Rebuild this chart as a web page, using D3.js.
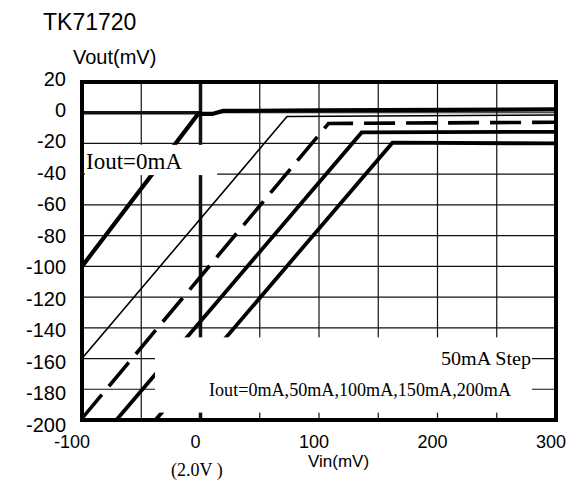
<!DOCTYPE html>
<html>
<head>
<meta charset="utf-8">
<script src="https://cdn.jsdelivr.net/npm/d3@7"></script>
<style>
  html, body { margin: 0; padding: 0; background: #fff; }
  svg { display: block; }
</style>
</head>
<body>
<div id="chart"></div>
<script>
// ---------------- data ----------------
const chartTitle = "TK71720";
const yAxisTitle = "Vout(mV)";
const xAxisTitle = "Vin(mV)";
const xSubLabel = "(2.0V )";
const xTickValues = [-100, 0, 100, 200, 300];
const xTickLabels = ["-100", "0", "100", "200", "300"];
const yTickValues = [20, 0, -20, -40, -60, -80, -100, -120, -140, -160, -180, -200];
const yTickLabels = ["20", "0", "-20", "-40", "-60", "-80", "-100", "-120", "-140", "-160", "-180", "-200"];
const xGridValues = [-50, 0, 50, 100, 150, 200, 250];
const yGridValues = [0, -20, -40, -60, -80, -100, -120, -140, -160, -180];

// Vout deviation (mV) vs Vin (mV), per load current
const seriesNames = ["0mA", "50mA", "100mA", "150mA", "200mA"];
const iout0mA   = [[-100, -100], [-2, -0.8], [10, -0.8], [19, 1.2], [100, 1.5], [300, 2.2]];
const iout50mA  = [[-100, -160], [73, -2.5], [300, -1.5]];
const iout100mA = [[-100, -199], [108, -7], [300, -6.2]];
const iout150mA = [[-71, -200], [136, -12.8], [300, -12.4]];
const iout200mA = [[-38, -200], [162, -19.5], [300, -20]];

const labelZero = "Iout=0mA";
const legendStep = "50mA Step";
const legendList = "Iout=0mA,50mA,100mA,150mA,200mA";

// ---------------- drawing ----------------
const W = 567, H = 483;
const svg = d3.select("#chart").append("svg").attr("width", W).attr("height", H);

const x = d3.scaleLinear().domain([-100, 300]).range([82, 556]);
const y = d3.scaleLinear().domain([20, -200]).range([82, 420]);
// tick labels in the original are spaced slightly differently from the grid
const yLab = d3.scaleLinear().domain([20, -200]).range([78.5, 424.5]);

const sans = "'Liberation Sans', Arial, sans-serif";
const serif = "'Liberation Serif', 'Times New Roman', serif";

svg.append("defs").append("clipPath").attr("id", "plotclip")
  .append("rect").attr("x", x(-100)).attr("y", y(20))
  .attr("width", x(300) - x(-100)).attr("height", y(-200) - y(20));

const plot = svg.append("g").attr("clip-path", "url(#plotclip)");

// grid
plot.append("g").selectAll("line").data(xGridValues).join("line")
  .attr("x1", d => x(d)).attr("x2", d => x(d))
  .attr("y1", y(20)).attr("y2", y(-200))
  .attr("stroke", "#111").attr("stroke-width", d => d === 0 ? 3.5 : 1.2);
plot.append("g").selectAll("line").data(yGridValues).join("line")
  .attr("x1", x(-100)).attr("x2", d => d === 0 ? x(0) : x(300))
  .attr("y1", d => y(d)).attr("y2", d => y(d))
  .attr("stroke", "#111").attr("stroke-width", d => d === 0 ? 3.5 : 1.2);
// thin continuation of 0 grid line on the right
plot.append("line")
  .attr("x1", x(0)).attr("x2", x(300)).attr("y1", y(0)).attr("y2", y(0))
  .attr("stroke", "#111").attr("stroke-width", 1.2);

const line = d3.line().x(d => x(d[0])).y(d => y(d[1]));
const styles = [
  { data: iout0mA,   w: 4.2, dash: null },
  { data: iout50mA,  w: 1.6, dash: null },
  { data: iout100mA, w: 3.6, dash: "31,11" },
  { data: iout150mA, w: 3.8, dash: null },
  { data: iout200mA, w: 3.8, dash: null }
];
plot.append("g").selectAll("path").data(styles).join("path")
  .attr("d", s => line(s.data))
  .attr("fill", "none").attr("stroke", "#000")
  .attr("stroke-width", s => s.w)
  .attr("stroke-dasharray", s => s.dash)
  .attr("stroke-linejoin", "miter");

// white label boxes
plot.append("rect")
  .attr("x", x(-97.5)).attr("y", y(-20.9))
  .attr("width", x(14) - x(-97.5)).attr("height", y(-40.6) - y(-20.9))
  .attr("fill", "#fff");
plot.append("rect")
  .attr("x", x(-38.4)).attr("y", y(-146.2))
  .attr("width", x(279.7) - x(-38.4)).attr("height", y(-195.2) - y(-146.2))
  .attr("fill", "#fff");

// frame
svg.append("rect")
  .attr("x", x(-100)).attr("y", y(20))
  .attr("width", x(300) - x(-100)).attr("height", y(-200) - y(20))
  .attr("fill", "none").attr("stroke", "#000").attr("stroke-width", 4);

// in-plot texts
svg.append("text").attr("x", 86).attr("y", 168.5)
  .attr("font-family", serif).attr("font-size", 23).text(labelZero);
svg.append("text").attr("x", 531).attr("y", 364.5).attr("text-anchor", "end")
  .attr("font-family", serif).attr("font-size", 18)
  .attr("textLength", 90).attr("lengthAdjust", "spacingAndGlyphs").text(legendStep);
svg.append("text").attr("x", 209).attr("y", 396)
  .attr("font-family", serif).attr("font-size", 18)
  .attr("textLength", 302).attr("lengthAdjust", "spacingAndGlyphs").text(legendList);

// axis tick labels
svg.append("g").selectAll("text").data(yTickValues).join("text")
  .attr("x", 66).attr("y", d => yLab(d) + 7)
  .attr("text-anchor", "end")
  .attr("font-family", sans).attr("font-size", 20)
  .text((d, i) => yTickLabels[i]);
svg.append("g").selectAll("text").data(xTickValues).join("text")
  .attr("x", d => x(d) - (d === -100 ? 10 : 5)).attr("y", 448)
  .attr("text-anchor", "middle")
  .attr("font-family", sans).attr("font-size", 18)
  .text((d, i) => xTickLabels[i]);

// titles
svg.append("text").attr("x", 43).attr("y", 29.5)
  .attr("font-family", sans).attr("font-size", 23).text(chartTitle);
svg.append("text").attr("x", 73).attr("y", 63.5)
  .attr("font-family", sans).attr("font-size", 20).text(yAxisTitle);
svg.append("text").attr("x", 308).attr("y", 467)
  .attr("font-family", sans).attr("font-size", 17).text(xAxisTitle);
svg.append("text").attr("x", 171).attr("y", 475.5)
  .attr("font-family", serif).attr("font-size", 18).text(xSubLabel);
</script>
</body>
</html>
